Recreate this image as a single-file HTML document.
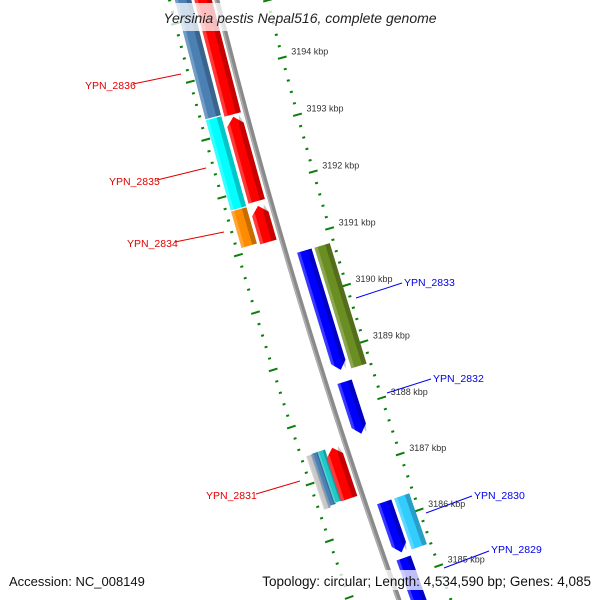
<!DOCTYPE html>
<html><head><meta charset="utf-8"><style>
html,body{margin:0;padding:0;background:#fff;width:600px;height:600px;overflow:hidden;}
svg{display:block;font-family:"Liberation Sans",sans-serif;overflow:hidden;}
</style></head><body>
<svg id="map" width="600" height="600" viewBox="0 0 600 600">
<g id="ticks"></g>
<g id="backbone"></g>
<g id="genes"></g>
<g id="labels"></g>
<rect x="148" y="3" width="305" height="28" fill="rgba(255,255,255,0.75)"/>
<text x="300" y="23" text-anchor="middle" font-size="14" font-style="italic" fill="#222">Yersinia pestis Nepal516, complete genome</text>
<rect x="5" y="570" width="143" height="20" fill="rgba(255,255,255,0.75)"/>
<text x="9" y="586" font-size="13" fill="#111">Accession: NC_008149</text>
<rect x="258" y="570" width="337" height="20" fill="rgba(255,255,255,0.75)"/>
<text x="591" y="586" font-size="13.5" text-anchor="end" fill="#111">Topology: circular; Length: 4,534,590 bp; Genes: 4,085</text>
</svg>
<script>
// ---- data ----
const geneStart = [3195.6, 3195.6, 3193.31, 3193.25, 3191.73, 3191.70, 3187.46, 3187.47, 3187.47, 3187.46, 3190.76, 3190.76, 3188.45, 3186.32, 3186.32, 3185.32];
const geneEnd   = [3193.33, 3193.29, 3191.75, 3191.78, 3191.10, 3191.07, 3186.52, 3186.55, 3186.57, 3186.56, 3188.66, 3188.63, 3187.53, 3185.42, 3185.41, 3184.0];
const geneShape = ['rect','up','rect','up','rect','up','rect','rect','rect','up','down','rect','down','down','rect','down'];
const geneBand  = ['L2','L1','L2','L1','L2','L1','L2a','L2b','L2c','L1','R1','R2','R1','R1','R2','R1'];
const geneColor = ['#4a80b4','#ff0000','#00ffff','#ff0000','#ff8c00','#ff0000','#c8c8c8','#4a80b4','#20c8c8','#ff0000','#0000ff','#6b8e23','#0000ff','#0000ff','#33ccff','#0000ff'];
const labelNames = ['YPN_2836','YPN_2835','YPN_2834','YPN_2831','YPN_2833','YPN_2832','YPN_2830','YPN_2829'];
const labelColors = ['#e00000','#e00000','#e00000','#e00000','#0000ee','#0000ee','#0000ee','#0000ee'];
const tickLabels = [3194,3193,3192,3191,3190,3189,3188,3187,3186,3185];

// ---- geometry ----
const NS='http://www.w3.org/2000/svg';
const CX=6335, CY=-1528;
function ang(k){return (165.32-(3194-k)*0.541)*Math.PI/180;}
function pt(k,r){const a=ang(k);return [CX+r*Math.cos(a),CY+r*Math.sin(a)];}
const bands={L2:[6331,6347],L1:[6311,6328],L2a:[6340,6347],L2b:[6334,6341],L2c:[6327,6335],R1:[6280,6295],R2:[6261,6277]};
function mk(tag,attrs,parent){const e=document.createElementNS(NS,tag);for(const a in attrs)e.setAttribute(a,attrs[a]);parent.appendChild(e);return e;}

// ticks
const tg=document.getElementById('ticks');
[6257,6352].forEach((R,ri)=>{
  for(let i=0;i<=65;i++){
    const k=3196-i*0.2;
    const major=Math.abs(k-Math.round(k))<0.01;
    const L=major?4.5:1.5;
    const a=pt(k,R-L),b=pt(k,R+L);
    const l=mk('line',{x1:a[0],y1:a[1],x2:b[0],y2:b[1],stroke:'#0a800a','stroke-width':2},tg);
    
    
  }
});
tickLabels.forEach(k=>{
  const p=pt(k,6257);
  const t=mk('text',{x:p[0]+9,y:p[1]-3,'font-size':9,fill:'#333'},tg);
  t.textContent=k+' kbp';
  
  
});

// backbone
const bg=document.getElementById('backbone');
function arcPath(r,k1,k2){let d='';for(let i=0;i<=40;i++){const k=k1+(k2-k1)*i/40;const p=pt(k,r);d+=(i?'L':'M')+p[0].toFixed(2)+' '+p[1].toFixed(2);}return d;}
const bb=mk('path',{d:arcPath(6306,3196.5,3183.5),stroke:'#8a8a8a','stroke-width':5,fill:'none'},bg);


const bb2=mk('path',{d:arcPath(6307.5,3196.5,3183.5),stroke:'#b0b0b0','stroke-width':1.5,fill:'none'},bg);



// genes
const gg=document.getElementById('genes');
function poly(pts){return pts.map(p=>p[0].toFixed(2)+','+p[1].toFixed(2)).join(' ');}
function shapePts(s,e,r1,r2,shape){
  const hi=Math.max(s,e),lo=Math.min(s,e),rm=(r1+r2)/2,tip=0.14;
  if(shape==='up') return [pt(hi-tip,r1),pt(hi,rm),pt(hi-tip,r2),pt(lo,r2),pt(lo,r1)];
  if(shape==='down') return [pt(hi,r1),pt(hi,r2),pt(lo+tip,r2),pt(lo,rm),pt(lo+tip,r1)];
  return [pt(hi,r1),pt(hi,r2),pt(lo,r2),pt(lo,r1)];
}
geneStart.forEach((s,i)=>{
  const b=bands[geneBand[i]];const e=geneEnd[i];
  const g=mk('g',{},gg);
  
  
  mk('polygon',{points:poly(shapePts(s,e,b[0],b[1],geneShape[i])),fill:geneColor[i]},g);
  const w=b[1]-b[0];
  const d=mk('polygon',{points:poly(shapePts(s,e,b[0],b[0]+w*0.3,geneShape[i])),fill:'rgba(0,0,0,0.22)'},g);
  
  
  const h=mk('polygon',{points:poly(shapePts(s,e,b[1]-w*0.2,b[1],geneShape[i])),fill:'rgba(255,255,255,0.22)'},g);
  
  
});

// labels
const lg=document.getElementById('labels');
const lab=[[85,89,133,84,181,74],[109,185,157,180,206,168],[127,247,175,242,224,232],[206,499,256,494,300,481],
           [404,286,402,283,356,298],[433,382,431,379,387,393],[474,499,472,496,426,513],[491,553,489,551,444,568]];
labelNames.forEach((n,i)=>{
  const L=lab[i];
  const ln=mk('line',{x1:L[2],y1:L[3],x2:L[4],y2:L[5],stroke:labelColors[i],'stroke-width':1},lg);
  
  
  const t=mk('text',{x:L[0],y:L[1],'font-size':10.5,fill:labelColors[i]},lg);
  t.textContent=n;
  
  
});
</script>
</body></html>
